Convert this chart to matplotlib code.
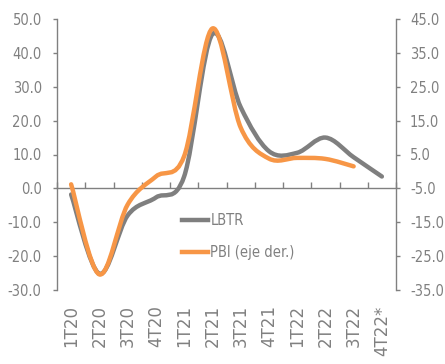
import numpy as np
import matplotlib
matplotlib.use("Agg")
from matplotlib import pyplot as plt
from matplotlib.font_manager import FontProperties
from matplotlib.path import Path
from matplotlib.patches import PathPatch
from matplotlib.lines import Line2D

# data
quarters = ["1T20", "2T20", "3T20", "4T20", "1T21", "2T21", "3T21", "4T21",
            "1T22", "2T22", "3T22", "4T22*"]
lbtr = [-1.8, -25.2, -8.0, -2.7, 3.5, 45.5, 24.0, 11.0, 10.5, 15.0, 9.2, 3.5]      # left axis
pbi = [-3.8, -30.4, -9.8, -1.5, 4.5, 42.2, 13.0, 3.8, 4.0, 3.7, 1.5]               # right axis

left_ticks = [-30, -20, -10, 0, 10, 20, 30, 40, 50]
right_ticks = [-35, -25, -15, -5, 5, 15, 25, 35, 45]

GREY = "#7f7f7f"
ORANGE = "#f79646"
TXT = "#808080"

cond = FontProperties(family="DejaVu Sans", stretch="condensed", size=10.5)


def smooth_path(xs, ys):
    # excel-style smoothed line: cubic bezier through every point
    pts = np.column_stack([xs, ys]).astype(float)
    verts = [pts[0]]
    codes = [Path.MOVETO]
    n = len(pts)
    for i in range(n - 1):
        p0 = pts[i - 1] if i > 0 else pts[i]
        p1 = pts[i]
        p2 = pts[i + 1]
        p3 = pts[i + 2] if i + 2 < n else pts[i + 1]
        verts += [p1 + (p2 - p0) / 6, p2 - (p3 - p1) / 6, p2]
        codes += [Path.CURVE4] * 3
    return Path(verts, codes)


fig = plt.figure(figsize=(4.45, 3.64), dpi=100)
ax = fig.add_axes([57 / 445, 1 - 290 / 364, (396 - 57) / 445, (290 - 19) / 364])
ax2 = ax.twinx()

x = np.arange(len(quarters))
ax.add_patch(PathPatch(smooth_path(x, lbtr), fill=False, edgecolor=GREY, lw=3.2,
                       capstyle="round", joinstyle="round"))
ax2.add_patch(PathPatch(smooth_path(x[:len(pbi)], pbi), fill=False, edgecolor=ORANGE, lw=3.2,
                        capstyle="round", joinstyle="round"))

ax.set_xlim(-0.5, len(quarters) - 0.5)
ax.set_ylim(-30, 50)
ax2.set_ylim(-35, 45)

ax.set_yticks(left_ticks)
ax.set_yticklabels([f"{v:.1f}" for v in left_ticks])
ax2.set_yticks(right_ticks)
ax2.set_yticklabels([f"{v:.1f}" for v in right_ticks])

for a in (ax, ax2):
    a.spines["top"].set_visible(False)
    a.spines["bottom"].set_visible(False)
    for s in a.spines.values():
        s.set_color(TXT)
        s.set_linewidth(1.0)
ax.spines["right"].set_visible(False)
ax2.spines["left"].set_visible(False)

ax.tick_params(axis="y", direction="out", length=3, width=1, color=TXT, labelcolor=TXT, pad=8)
ax2.tick_params(axis="y", direction="out", length=3, width=1, color=TXT, labelcolor=TXT, pad=7)
for lab in ax.get_yticklabels() + ax2.get_yticklabels():
    lab.set_fontproperties(cond)

# category labels at the bottom
ax.set_xticks(x)
ax.set_xticklabels(quarters, rotation=90, fontsize=12, color=TXT, family="DejaVu Sans")
ax.tick_params(axis="x", length=0, pad=11)

# zero line with the category boundary ticks
zero = ax.secondary_xaxis(30 / 80)
zero.set_xticks(np.arange(len(quarters) + 1) - 0.5)
zero.tick_params(axis="x", direction="in", length=4, width=1, color=TXT, labelbottom=False)
zero.spines["bottom"].set_color(TXT)
zero.spines["bottom"].set_linewidth(1.0)

handles = [Line2D([], [], color=GREY, lw=3.2), Line2D([], [], color=ORANGE, lw=3.2)]
leg = ax2.legend(handles, ["LBTR", "PBI (eje der.)"], loc="upper left",
                 bbox_to_anchor=(182 / 445, 1 - 213 / 364), bbox_transform=fig.transFigure,
                 frameon=False, borderpad=0, borderaxespad=0, handlelength=1.8,
                 handletextpad=0.15, labelspacing=1.2, prop=cond)
for t in leg.get_texts():
    t.set_color(TXT)

fig.savefig("out.png", dpi=100)
